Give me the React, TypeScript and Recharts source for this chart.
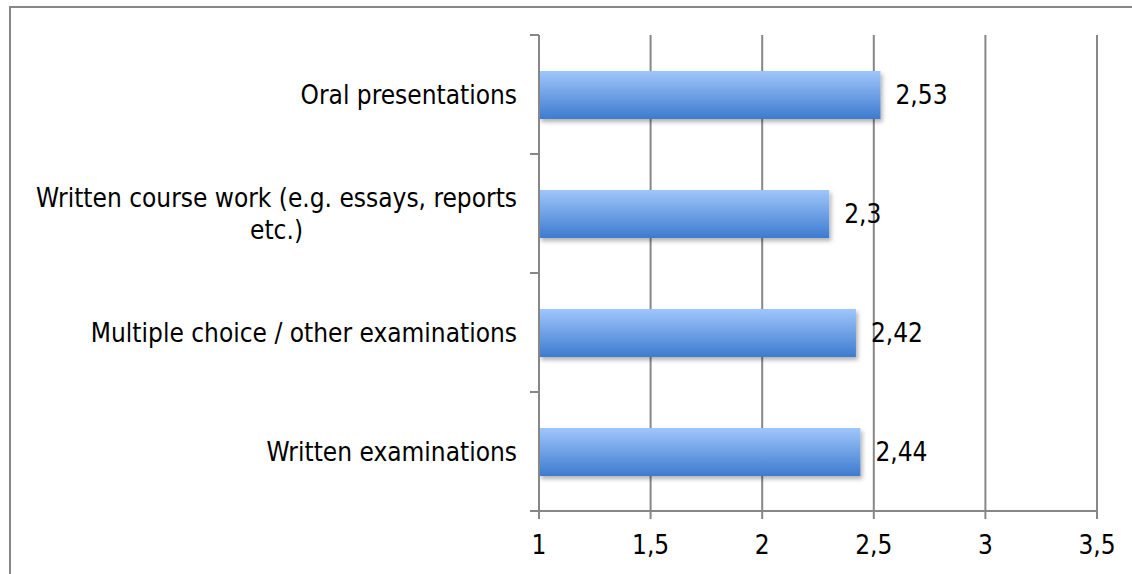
import React from "react";
import { BarChart, Bar, XAxis, YAxis, CartesianGrid, LabelList } from "recharts";

// ─── Data ────────────────────────────────────────────────────────────────────

const CATEGORIES: string[][] = [
  ["Oral presentations"],
  ["Written course work (e.g. essays, reports", "etc.)"],
  ["Multiple choice / other examinations"],
  ["Written examinations"],
];

const SCORES = [2.53, 2.3, 2.42, 2.44];

const X_TICKS = [1, 1.5, 2, 2.5, 3, 3.5];

// ─── Layout / style ──────────────────────────────────────────────────────────

const W = 1132;
const H = 574;
const MARGIN = { top: 35, right: 35, left: 0, bottom: 33 };
const X_AXIS_H = 30;
const Y_AXIS_W = 539;
const BAND = (H - MARGIN.top - MARGIN.bottom - X_AXIS_H) / CATEGORIES.length;

const FONT = "'DejaVu Sans Condensed', 'DejaVu Sans', sans-serif";
const FONT_SIZE = 26;
const GRID = "#878787";

const chartData = CATEGORIES.map((lines, i) => ({
  name: lines.join(" "),
  lines,
  value: SCORES[i],
}));

const fmt = (v: number) => String(v).replace(".", ",");

let ctx: CanvasRenderingContext2D | null = null;
function textWidth(s: string): number {
  if (!ctx) ctx = document.createElement("canvas").getContext("2d");
  if (!ctx) return s.length * FONT_SIZE * 0.5;
  ctx.font = `${FONT_SIZE}px ${FONT}`;
  return ctx.measureText(s).width;
}

// ─── Category tick: lines centred on each other, block right aligned ────────

function CategoryTick(props: any) {
  const { x, y, payload } = props;
  const row = chartData.find((d) => d.name === payload.value);
  const lines = row ? row.lines : [String(payload.value)];
  const lh = 32;
  const start = y - ((lines.length - 1) * lh) / 2;
  const widest = Math.max(...lines.map(textWidth));
  const axisX = x + 8; // recharts hands over the label anchor, not the axis
  const right = axisX - 22;
  const cx = right - widest / 2;
  return (
    <g>
      <line x1={axisX - 9} x2={axisX} y1={y - BAND / 2} y2={y - BAND / 2} stroke={GRID} strokeWidth={2} />
      <line x1={axisX - 9} x2={axisX} y1={y + BAND / 2} y2={y + BAND / 2} stroke={GRID} strokeWidth={2} />
      {lines.map((ln, i) => (
        <text
          key={i}
          x={cx}
          y={start + i * lh}
          textAnchor="middle"
          dominantBaseline="central"
          fontFamily={FONT}
          fontSize={FONT_SIZE}
          fill="#000"
        >
          {ln}
        </text>
      ))}
    </g>
  );
}

// ─── Chart ───────────────────────────────────────────────────────────────────

export default function App() {
  return (
    <div style={{ position: "absolute", left: 0, top: 0, width: W, height: H, background: "#fff", overflow: "hidden" }}>
      {/* chart frame, runs past the right and bottom edges */}
      <div
        style={{
          position: "absolute",
          left: 9,
          top: 6,
          width: 1140,
          height: 580,
          border: `2px solid ${GRID}`,
          boxSizing: "border-box",
        }}
      />
      <div style={{ position: "absolute", left: 0, top: 0 }}>
        <BarChart
          width={W}
          height={H}
          data={chartData}
          layout="vertical"
          margin={MARGIN}
          barCategoryGap={0}
        >
          <defs>
            <linearGradient id="barFill" x1="0" y1="0" x2="0" y2="1">
              <stop offset="0%" stopColor="#a0c6fb" />
              <stop offset="100%" stopColor="#3d7bcf" />
            </linearGradient>
            <filter id="barShadow" x="-5%" y="-20%" width="110%" height="160%">
              <feDropShadow dx="2" dy="3" stdDeviation="2" floodColor="#000" floodOpacity="0.3" />
            </filter>
          </defs>

          <CartesianGrid horizontal={false} stroke={GRID} strokeWidth={2} />

          <XAxis
            type="number"
            domain={[1, 3.5]}
            ticks={X_TICKS}
            tickFormatter={fmt}
            height={X_AXIS_H}
            axisLine={{ stroke: GRID, strokeWidth: 2 }}
            tickLine={{ stroke: GRID, strokeWidth: 2 }}
            tickSize={8}
            tickMargin={17}
            tick={{ fontFamily: FONT, fontSize: FONT_SIZE, fill: "#000" }}
            interval={0}
          />
          <YAxis
            type="category"
            dataKey="name"
            width={Y_AXIS_W}
            axisLine={{ stroke: GRID, strokeWidth: 2 }}
            tickLine={false}
            tick={<CategoryTick />}
            interval={0}
          />

          <Bar
            dataKey="value"
            fill="url(#barFill)"
            barSize={48}
            filter="url(#barShadow)"
            isAnimationActive={false}
          >
            <LabelList
              dataKey="value"
              position="right"
              offset={15}
              formatter={(v: any) => fmt(v)}
              style={{ fontFamily: FONT, fontSize: FONT_SIZE, fill: "#000" }}
            />
          </Bar>
        </BarChart>
      </div>
    </div>
  );
}
